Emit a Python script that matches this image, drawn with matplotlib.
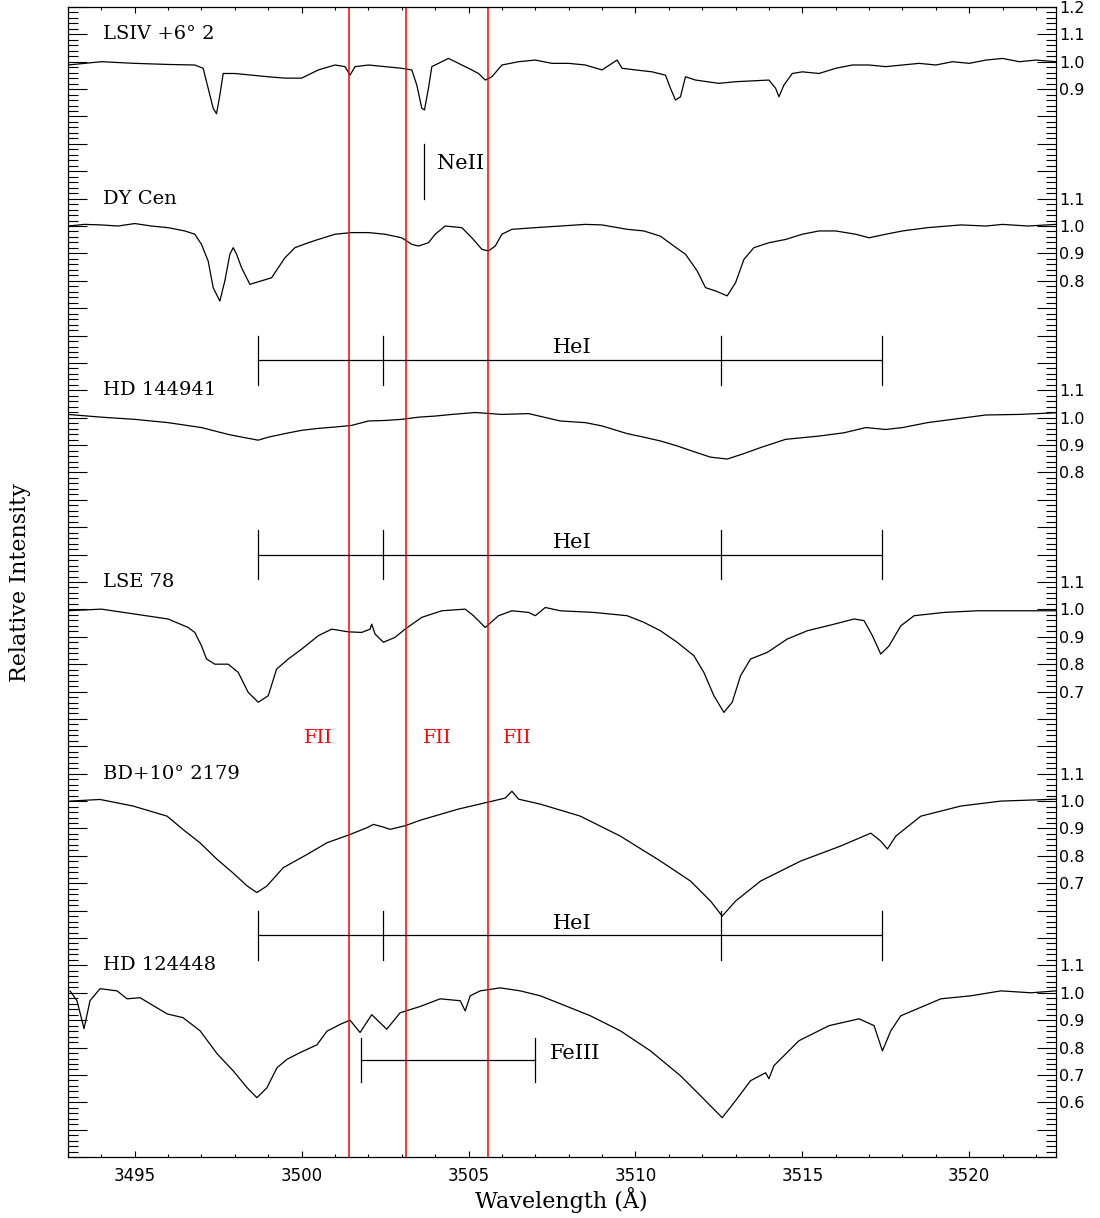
import matplotlib.pyplot as plt
from matplotlib.ticker import FixedLocator, FuncFormatter, MultipleLocator

# Spectra: wavelength (A) and relative intensity, each stacked by an offset.
LSIV_WL = [3493.0, 3494.0, 3495.0, 3496.0, 3496.8, 3497.05, 3497.2, 3497.35, 3497.45, 3497.55,
           3497.65, 3498.0, 3498.5, 3499.0, 3499.5, 3500.0, 3500.5, 3501.0, 3501.3, 3501.45,
           3501.6, 3502.0, 3502.5, 3503.0, 3503.3, 3503.45, 3503.6, 3503.68, 3503.8, 3503.9,
           3504.2, 3504.4, 3504.7, 3505.0, 3505.3, 3505.5, 3505.7, 3506.0, 3506.5, 3507.0,
           3507.5, 3508.0, 3508.5, 3509.0, 3509.45, 3509.6, 3510.0, 3510.5, 3510.9, 3511.05,
           3511.2, 3511.35, 3511.5, 3511.8, 3512.5, 3513.0, 3513.5, 3514.0, 3514.2, 3514.3,
           3514.45, 3514.7, 3515.0, 3515.5, 3516.0, 3516.5, 3517.0, 3517.5, 3518.0, 3518.5,
           3519.0, 3519.5, 3520.0, 3520.5, 3521.0, 3521.5, 3522.0, 3522.6]
LSIV_FLUX = [0.988, 1.0, 0.994, 0.99, 0.988, 0.976, 0.903, 0.83, 0.81, 0.878,
             0.957, 0.957, 0.951, 0.945, 0.94, 0.94, 0.97, 0.988, 0.982, 0.951,
             0.982, 0.988, 0.982, 0.976, 0.97, 0.915, 0.83, 0.824, 0.903, 0.982,
             1.0, 1.012, 0.994, 0.976, 0.957, 0.933, 0.945, 0.988, 1.0, 1.006,
             0.994, 0.994, 0.988, 0.97, 1.006, 0.976, 0.97, 0.963, 0.951, 0.903,
             0.86, 0.872, 0.945, 0.933, 0.921, 0.927, 0.93, 0.933, 0.903, 0.872,
             0.915, 0.957, 0.963, 0.957, 0.976, 0.988, 0.988, 0.982, 0.988, 0.994,
             0.988, 1.0, 0.994, 1.006, 1.012, 1.0, 1.006, 1.0]

DYCEN_WL = [3493.0, 3493.5, 3494.0, 3494.5, 3495.0, 3495.5, 3496.0, 3496.5, 3496.8, 3497.0,
            3497.2, 3497.35, 3497.55, 3497.7, 3497.85, 3497.95, 3498.05, 3498.2, 3498.45, 3498.8,
            3499.1, 3499.3, 3499.5, 3499.8, 3500.2, 3500.5, 3501.0, 3501.5, 3502.0, 3502.5,
            3503.0, 3503.3, 3503.5, 3503.8, 3504.0, 3504.3, 3504.8, 3505.1, 3505.4, 3505.6,
            3505.8, 3506.0, 3506.3, 3507.0, 3507.75, 3508.5, 3509.0, 3509.75, 3510.25, 3510.75,
            3511.15, 3511.5, 3511.85, 3512.1, 3512.4, 3512.75, 3513.0, 3513.25, 3513.55, 3514.0,
            3514.5, 3515.0, 3515.5, 3516.0, 3516.6, 3517.0, 3517.5, 3518.0, 3518.75, 3519.75,
            3520.5, 3521.0, 3521.75, 3522.6]
DYCEN_FLUX = [1.0, 1.006, 1.004, 1.0, 1.009, 1.0, 0.994, 0.982, 0.97, 0.933,
              0.872, 0.775, 0.726, 0.8, 0.897, 0.921, 0.897, 0.848, 0.787, 0.8,
              0.811, 0.848, 0.884, 0.921, 0.939, 0.951, 0.97, 0.976, 0.976, 0.97,
              0.957, 0.933, 0.927, 0.939, 0.97, 1.0, 0.994, 0.957, 0.915, 0.909,
              0.927, 0.97, 0.988, 0.994, 1.0, 1.006, 1.004, 0.988, 0.982, 0.963,
              0.927, 0.897, 0.836, 0.775, 0.763, 0.745, 0.793, 0.878, 0.921, 0.939,
              0.951, 0.97, 0.982, 0.982, 0.97, 0.957, 0.97, 0.982, 0.994, 1.004,
              1.0, 1.006, 1.0, 1.006]

HD144941_WL = [3493.0, 3494.0, 3495.0, 3496.0, 3497.0, 3497.8, 3498.3, 3498.7, 3499.0, 3499.5,
               3500.0, 3500.5, 3501.0, 3501.5, 3502.0, 3502.5, 3503.0, 3503.5, 3504.0, 3504.5,
               3505.2, 3506.0, 3506.8, 3507.75, 3508.5, 3509.0, 3509.75, 3510.25, 3510.75, 3511.25,
               3511.75, 3512.25, 3512.75, 3513.25, 3513.75, 3514.5, 3515.0, 3515.5, 3516.25, 3516.9,
               3517.5, 3518.0, 3518.75, 3519.75, 3520.5, 3521.5, 3522.6]
HD144941_FLUX = [1.012, 1.002, 0.994, 0.982, 0.964, 0.939, 0.927, 0.918, 0.929, 0.942,
                 0.954, 0.961, 0.966, 0.972, 0.988, 0.99, 0.994, 1.002, 1.006, 1.012,
                 1.019, 1.012, 1.015, 0.988, 0.982, 0.97, 0.942, 0.929, 0.915, 0.897,
                 0.876, 0.856, 0.849, 0.869, 0.891, 0.921, 0.927, 0.933, 0.945, 0.964,
                 0.957, 0.964, 0.982, 0.998, 1.01, 1.012, 1.018]

LSE78_WL = [3493.0, 3494.0, 3495.0, 3496.0, 3496.6, 3496.8, 3497.0, 3497.15, 3497.4, 3497.8,
            3498.1, 3498.4, 3498.7, 3499.0, 3499.25, 3499.6, 3500.0, 3500.5, 3500.9, 3501.4,
            3501.8, 3502.05, 3502.1, 3502.2, 3502.45, 3502.8, 3503.1, 3503.6, 3504.2, 3504.9,
            3505.15, 3505.5, 3505.9, 3506.3, 3506.8, 3507.0, 3507.3, 3507.75, 3508.75, 3509.75,
            3510.25, 3510.75, 3511.25, 3511.75, 3512.05, 3512.35, 3512.65, 3512.9, 3513.15, 3513.45,
            3513.95, 3514.55, 3515.15, 3515.95, 3516.55, 3516.85, 3517.1, 3517.35, 3517.6, 3517.95,
            3518.35, 3519.25, 3520.25, 3522.6]
LSE78_FLUX = [0.995, 1.001, 0.983, 0.965, 0.934, 0.916, 0.867, 0.819, 0.80, 0.80,
              0.77, 0.697, 0.661, 0.685, 0.782, 0.819, 0.855, 0.904, 0.928, 0.918,
              0.916, 0.928, 0.946, 0.91, 0.88, 0.898, 0.928, 0.971, 0.995, 1.001,
              0.977, 0.934, 0.977, 0.995, 0.989, 0.977, 1.007, 0.995, 0.989, 0.977,
              0.953, 0.922, 0.88, 0.831, 0.77, 0.685, 0.624, 0.661, 0.758, 0.819,
              0.843, 0.892, 0.922, 0.946, 0.965, 0.959, 0.904, 0.837, 0.867, 0.94,
              0.977, 0.989, 0.995, 0.995]

BD10_WL = [3493.06, 3493.96, 3494.95, 3495.97, 3496.45, 3496.96, 3497.47, 3497.95, 3498.37, 3498.66,
           3498.96, 3499.45, 3500.16, 3500.76, 3501.45, 3501.96, 3502.15, 3502.45, 3502.65, 3503.1,
           3503.55, 3504.7, 3506.1, 3506.3, 3506.5, 3507.15, 3508.35, 3509.55, 3510.75, 3511.65,
           3512.25, 3512.6, 3513.0, 3513.75, 3514.95, 3516.15, 3517.05, 3517.35, 3517.55, 3517.8,
           3518.55, 3519.75, 3520.95, 3522.6]
BD10_FLUX = [1.0, 1.006, 0.982, 0.945, 0.896, 0.847, 0.787, 0.737, 0.69, 0.666,
             0.69, 0.757, 0.805, 0.848, 0.878, 0.903, 0.915, 0.905, 0.897, 0.91,
             0.93, 0.971, 1.011, 1.036, 1.007, 0.989, 0.945, 0.872, 0.781, 0.708,
             0.635, 0.58, 0.635, 0.708, 0.781, 0.836, 0.883, 0.854, 0.825, 0.872,
             0.945, 0.982, 1.0, 1.007]

HD124448_WL = [3493.06, 3493.27, 3493.48, 3493.66, 3493.96, 3494.47, 3494.77, 3495.16, 3495.46, 3495.97,
               3496.45, 3496.96, 3497.47, 3497.95, 3498.37, 3498.66, 3498.96, 3499.26, 3499.56, 3499.96,
               3500.46, 3500.76, 3501.16, 3501.45, 3501.75, 3502.1, 3502.55, 3502.95, 3503.55, 3504.15,
               3504.75, 3504.9, 3505.05, 3505.35, 3505.95, 3506.55, 3507.15, 3507.75, 3508.65, 3509.55,
               3510.45, 3511.35, 3511.95, 3512.6, 3513.0, 3513.45, 3513.9, 3514.0, 3514.15, 3514.9,
               3515.8, 3516.7, 3517.15, 3517.4, 3517.65, 3517.95, 3519.15, 3520.05, 3520.95, 3521.85,
               3522.6]
HD124448_FLUX = [1.007, 0.971, 0.869, 0.971, 1.015, 1.007, 0.978, 0.982, 0.96, 0.923,
                 0.909, 0.861, 0.777, 0.715, 0.653, 0.617, 0.653, 0.726, 0.757, 0.782,
                 0.81, 0.86, 0.885, 0.90, 0.855, 0.92, 0.867, 0.927, 0.95, 0.978,
                 0.971, 0.934, 0.989, 1.007, 1.018, 1.007, 0.989, 0.96, 0.916, 0.861,
                 0.788, 0.697, 0.624, 0.544, 0.606, 0.679, 0.708, 0.686, 0.734, 0.825,
                 0.88, 0.905, 0.88, 0.788, 0.861, 0.916, 0.978, 0.989, 1.007, 1.0,
                 1.007]

STAR_NAMES = ["LSIV +6° 2", "DY Cen", "HD 144941", "LSE 78", "BD+10° 2179", "HD 124448"]
OFFSETS = [3.0, 2.4, 1.7, 1.0, 0.3, -0.4]
SPECTRA = [(LSIV_WL, LSIV_FLUX), (DYCEN_WL, DYCEN_FLUX), (HD144941_WL, HD144941_FLUX),
           (LSE78_WL, LSE78_FLUX), (BD10_WL, BD10_FLUX), (HD124448_WL, HD124448_FLUX)]
# Intensity values labelled on the right axis for each spectrum.
RIGHT_LABELS = [[1.2, 1.1, 1.0, 0.9], [1.1, 1.0, 0.9, 0.8], [1.1, 1.0, 0.9, 0.8],
                [1.1, 1.0, 0.9, 0.8, 0.7], [1.1, 1.0, 0.9, 0.8, 0.7],
                [1.1, 1.0, 0.9, 0.8, 0.7, 0.6]]

FII_LINES = [3501.42, 3503.12, 3505.57]
HEI_LINES = [3498.70, 3502.44, 3512.57, 3517.40]
HEI_LEVELS = [2.91, 2.20, 0.81]
NEII_LINE = 3503.67
FEIII_LINES = [3501.78, 3507.0]

SERIF = "DejaVu Serif"
SANS = "DejaVu Sans"

fig = plt.figure(figsize=(11, 12.18), dpi=100)
ax = fig.add_axes([0.0618, 0.0500, 0.8982, 0.9443])
ax.set_xlim(3493.0, 3522.6)
ax.set_ylim(0.0, 4.2)

for (wl, flux), offset, name in zip(SPECTRA, OFFSETS, STAR_NAMES):
    ax.plot(wl, [f + offset for f in flux], color="black", linewidth=0.9)
    ax.text(3494.05, offset + 1.1, name, fontsize=14, family=SERIF, va="center", ha="left")

for wl in FII_LINES:
    ax.axvline(wl, color="red", linewidth=1.1)
for x, label in zip([3500.49, 3504.06, 3506.46], ["FII", "FII", "FII"]):
    ax.text(x, 1.53, label, color="red", fontsize=14, family=SERIF, ha="center", va="center")

# HeI line markers
for level in HEI_LEVELS:
    ax.plot([HEI_LINES[0], HEI_LINES[-1]], [level, level], color="black", linewidth=0.9)
    for wl in HEI_LINES:
        ax.plot([wl, wl], [level - 0.09, level + 0.09], color="black", linewidth=0.9)
    ax.text(3508.1, level + 0.01, "HeI", fontsize=15, family=SERIF, ha="center", va="bottom")

# NeII marker
ax.plot([NEII_LINE, NEII_LINE], [3.50, 3.70], color="black", linewidth=0.9)
ax.text(3504.05, 3.63, "NeII", fontsize=15, family=SERIF, ha="left", va="center")

# FeIII marker
ax.plot(FEIII_LINES, [0.354, 0.354], color="black", linewidth=0.9)
for wl in FEIII_LINES:
    ax.plot([wl, wl], [0.354 - 0.08, 0.354 + 0.08], color="black", linewidth=0.9)
ax.text(3507.45, 0.38, "FeIII", fontsize=15, family=SERIF, ha="left", va="center")

# Ticks: x below and above, y on both sides, labels only at the right.
major_y = [round(0.1 * i, 1) for i in range(43)]
label_map = {}
for offset, values in zip(OFFSETS, RIGHT_LABELS):
    for v in values:
        label_map[round(offset + v, 1)] = f"{v:.1f}"

ax.xaxis.set_major_locator(MultipleLocator(5))
ax.xaxis.set_minor_locator(MultipleLocator(1))
ax.yaxis.set_major_locator(FixedLocator(major_y))
ax.yaxis.set_minor_locator(MultipleLocator(0.02))
ax.yaxis.set_major_formatter(FuncFormatter(lambda v, pos: label_map.get(round(v, 1), "")))

ax.tick_params(axis="x", which="both", direction="in", top=True, bottom=True,
               labelsize=12, pad=7)
ax.tick_params(axis="x", which="major", length=4.5, width=0.8)
ax.tick_params(axis="x", which="minor", length=2.5, width=0.8)
ax.tick_params(axis="y", which="both", direction="in", left=True, right=True,
               labelleft=False, labelright=True, labelsize=11.5, pad=2)
ax.tick_params(axis="y", which="major", length=14, width=0.8)
ax.tick_params(axis="y", which="minor", length=7, width=0.8)
for lab in ax.get_xticklabels() + ax.get_yticklabels():
    lab.set_family(SANS)
for spine in ax.spines.values():
    spine.set_linewidth(0.9)

fig.text(0.510, 0.0145, "Wavelength (Å)", fontsize=16, family=SERIF, ha="center", va="center")
fig.text(0.018, 0.522, "Relative Intensity", fontsize=16, family=SERIF, rotation=90,
         ha="center", va="center")

fig.savefig("out.png", dpi=100)
